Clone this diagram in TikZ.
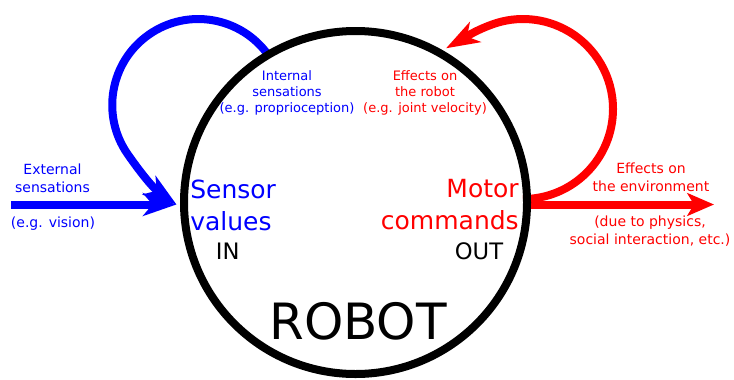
\documentclass[tikz,border=0pt]{standalone}
\usepackage{fontspec}
\setmainfont{DejaVu Sans}
\usetikzlibrary{arrows.meta}
\begin{document}
\begin{tikzpicture}[x=0.75pt,y=0.75pt,
  flow/.style={line width=6pt, -{Stealth[length=25pt,width=17pt,inset=7pt]}},
  smalltext/.style={font=\fontsize{10.5}{13.7}\selectfont, align=center, anchor=base, inner sep=0pt},
  intext/.style={font=\fontsize{9.75}{12}\selectfont, align=center, anchor=base, inner sep=0pt},
  bigtext/.style={font=\fontsize{18.75}{24}\selectfont, inner sep=0pt},
  iotext/.style={font=\fontsize{17}{20}\selectfont, anchor=base, inner sep=0pt}]
\useasboundingbox (0,0) rectangle (734,-379);
% named points
\coordinate (bin) at (11,-204.5);
\coordinate (btip) at (176.5,-204.5);
\coordinate (bl) at (268.7,-55.7);
\coordinate (rl) at (523,-199);
\coordinate (rtip) at (446,-48.3);
\coordinate (rout) at (531,-204.5);
\coordinate (rend) at (714,-204.5);
% connectors
\draw[flow, blue] (bl) arc[start angle=35, end angle=215, radius=86] to[out=-55, in=145] (btip);
\draw[flow, blue] (bin) -- (btip);
\draw[flow, red] (rl) arc[start angle=-90, end angle=110, radius=90] to[out=200, in=29] (rtip);
\draw[line width=6pt, red, -{Stealth[length=20pt,width=17pt,inset=5pt]}] (rout) -- (rend);
% robot
\node[circle, draw, line width=6pt, minimum size=257.25pt, inner sep=0pt] (robot) at (355.5,-202.5) {};
% texts (multi-line nodes: base = baseline of last line)
\node[bigtext, blue, anchor=base west, align=left] (sensor) at (190,-230) {Sensor\\values};
\node[bigtext, red, anchor=base east, align=right] (motor) at (519,-229) {Motor\\commands};
\node[iotext] (in) at (227.7,-259.5) {IN};
\node[iotext] (out) at (479,-259.5) {OUT};
\node[font=\fontsize{37.5}{45}\selectfont, anchor=base, inner sep=0pt] (robotlabel) at (358,-339) {ROBOT};
\node[smalltext, blue] (ext) at (52.5,-192.7) {External\\sensations};
\node[smalltext, blue] (vis) at (53,-227) {(e.g. vision)};
\node[intext, blue] (int) at (287,-112.7) {Internal\\sensations\\(e.g. proprioception)};
\node[intext, red] (effr) at (425,-112.7) {Effects on\\the robot\\(e.g. joint velocity)};
\node[smalltext, red] (effe) at (651,-191.7) {Effects on\\the environment};
\node[smalltext, red] (due) at (650,-244.3) {(due to physics,\\social interaction, etc.)};
\end{tikzpicture}
\end{document}
